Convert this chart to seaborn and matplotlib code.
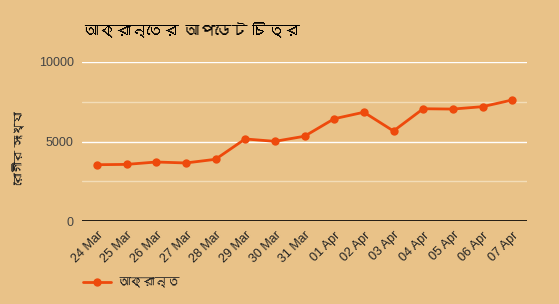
import matplotlib
matplotlib.use("Agg")
import matplotlib.pyplot as plt
from matplotlib import font_manager
import seaborn as sns
import pandas as pd

dates = ["24 Mar", "25 Mar", "26 Mar", "27 Mar", "28 Mar", "29 Mar", "30 Mar", "31 Mar",
         "01 Apr", "02 Apr", "03 Apr", "04 Apr", "05 Apr", "06 Apr", "07 Apr"]
infected = [3540, 3560, 3710, 3650, 3880, 5160, 5010, 5330,
            6430, 6840, 5660, 7060, 7040, 7190, 7610]
series_name = "আক্রান্ত"
title_text = "আক্রান্তের আপডেট চিত্র"
ylabel_text = "রোগীর সংখ্যা"
yticks = [0, 5000, 10000]

# find a font with Bengali glyphs if any is installed
beng_font = None
try:
    from fontTools.ttLib import TTFont
    for f in font_manager.fontManager.ttflist:
        try:
            tt = TTFont(f.fname, fontNumber=0, lazy=True)
            cmap = tt.getBestCmap()
            if cmap and 0x0986 in cmap:
                beng_font = f.name
                break
        except Exception:
            pass
except Exception:
    pass

sns.set_theme(style="white")
bg = "#E9C288"
fam = ["Liberation Sans"] + ([beng_font] if beng_font else []) + ["DejaVu Sans"]
plt.rcParams["font.family"] = fam

df = pd.DataFrame({"date": dates, "value": infected, "series": series_name})

fig = plt.figure(figsize=(5.59, 3.04), dpi=100, facecolor=bg)
ax = fig.add_axes([82 / 559, 83 / 304, 445 / 559, 159 / 304])
ax.set_facecolor(bg)

line_color = "#EE4A0C"
sns.lineplot(data=df, x="date", y="value", ax=ax, color=line_color, linewidth=2,
             marker="o", markersize=6, markeredgewidth=0, sort=False, label=series_name,
             legend=False)

ax.set_xlim(-0.5, len(dates) - 0.5)
ax.set_ylim(0, 10000)
ax.set_yticks(yticks)
ax.set_yticklabels([str(v) for v in yticks], fontsize=9, color="#444444")
for v in [2500, 7500]:
    ax.axhline(v, color="#F3DDB8", linewidth=1, zorder=0)
for v in [5000, 10000]:
    ax.axhline(v, color="white", linewidth=1, zorder=0)
ax.axhline(0, color="black", linewidth=1.2, zorder=1)
for s in ax.spines.values():
    s.set_visible(False)
ax.tick_params(axis="both", length=0, pad=6)
ax.set_xticks(range(len(dates)))
ax.set_xticklabels(dates, rotation=45, ha="right", rotation_mode="anchor",
                   fontsize=9, color="#222222")
ax.set_xlabel("")
ax.set_ylabel("")

fig.text(20 / 559, 1 - 148 / 304, ylabel_text, rotation=90, fontsize=8.5,
         color="#222222", ha="center", va="center")

fig.text(83 / 559, 1 - 31 / 304, title_text, fontsize=11.5, fontweight="bold",
         color="black", va="center", ha="left")

handles, labels = ax.get_legend_handles_labels()
leg = fig.legend(handles, labels, loc="center left", bbox_to_anchor=(72 / 559, 1 - 283 / 304),
                 frameon=False, fontsize=9, handlelength=2.2, handletextpad=0.5)
for t in leg.get_texts():
    t.set_color("#222222")

fig.savefig("out.png", dpi=100, facecolor=bg)
